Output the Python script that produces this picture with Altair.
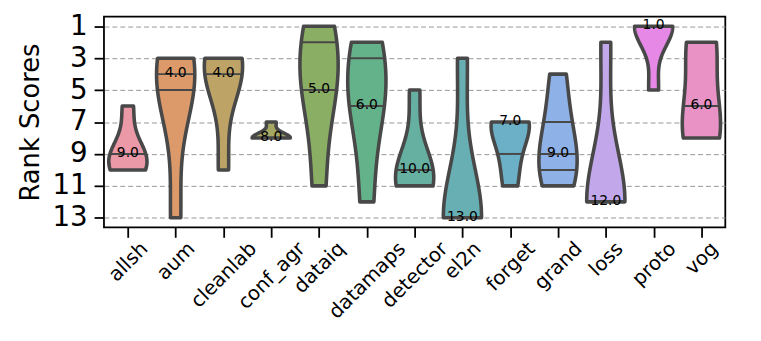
import json
import math
import colorsys
import altair as alt
import pandas as pd
import numpy as np

# ---------------- data ----------------
methods = ["allsh", "aum", "cleanlab", "conf_agr", "dataiq", "datamaps",
           "detector", "el2n", "forget", "grand", "loss", "proto", "vog"]

r_allsh = [6, 9, 9, 10, 10]
r_aum = [3, 4, 4, 5, 13]
r_cleanlab = [3, 3, 4, 4, 10]
r_conf_agr = [7, 8, 8, 8, 8]
r_dataiq = [1, 2, 5, 5, 11]
r_datamaps = [2, 3, 6, 6, 12]
r_detector = [5, 10, 10, 11, 11]
r_el2n = [3, 13, 13, 13, 13]
r_forget = [7, 7, 7, 9, 11]
r_grand = [4, 7, 9, 10, 11]
r_loss = [2, 12, 12, 12, 12]
r_proto = [1, 1, 1, 1, 5]
r_vog = [2, 2, 6, 8, 8]

rank_lists = [r_allsh, r_aum, r_cleanlab, r_conf_agr, r_dataiq, r_datamaps,
              r_detector, r_el2n, r_forget, r_grand, r_loss, r_proto, r_vog]

y_ticks = [1, 3, 5, 7, 9, 11, 13]

# ---------------- husl palette (seaborn style) ----------------
_M = [[3.2406, -1.5372, -0.4986], [-0.9689, 1.8758, 0.0415], [0.0557, -0.2040, 1.0570]]
_refU, _refV = 0.19784, 0.46834
_kappa, _eps = 903.2963, 0.0088564


def _max_chroma(L, H):
    hrad = math.radians(H)
    sinH, cosH = math.sin(hrad), math.cos(hrad)
    sub1 = (L + 16) ** 3 / 1560896.0
    sub2 = sub1 if sub1 > _eps else L / _kappa
    result = float("inf")
    for m1, m2, m3 in _M:
        top = (0.99915 * m1 + 1.05122 * m2 + 1.14460 * m3) * sub2
        rbottom = 0.86330 * m3 - 0.17266 * m2
        lbottom = 0.12949 * m3 - 0.38848 * m1
        bottom = (rbottom * sinH + lbottom * cosH) * sub2
        for t in (0.0, 1.0):
            C = L * (top - 1.05122 * t) / (bottom + 0.17266 * sinH * t)
            if 0 < C < result:
                result = C
    return result


def _f_inv(t):
    return t ** 3 if t ** 3 > _eps else (116 * t - 16) / _kappa


def _from_linear(c):
    return 12.92 * c if c <= 0.0031308 else 1.055 * c ** (1 / 2.4) - 0.055


def husl_to_rgb(H, S, L):
    C = _max_chroma(L, H) / 100.0 * S
    hrad = math.radians(H)
    U, V = C * math.cos(hrad), C * math.sin(hrad)
    varY = _f_inv((L + 16) / 116.0)
    varU = U / (13 * L) + _refU
    varV = V / (13 * L) + _refV
    Y = varY
    X = -(9 * Y * varU) / ((varU - 4) * varV - varU * varV)
    Z = (9 * Y - 15 * varV * Y - varV * X) / (3 * varV)
    rgb = [_from_linear(m[0] * X + m[1] * Y + m[2] * Z) for m in _M]
    return [min(max(c, 0.0), 1.0) for c in rgb]


def palette(n, h=0.01, s=0.9, l=0.65, sat=0.75, lighten=0.18):
    hues = (np.linspace(0, 1, n + 1)[:-1] + h) % 1 * 359
    out = []
    for hh in hues:
        r, g, b = husl_to_rgb(hh, s * 99, l * 99)
        hh2, ll, ss = colorsys.rgb_to_hls(r, g, b)
        r, g, b = colorsys.hls_to_rgb(hh2, ll, ss * sat)
        r, g, b = (c + (1 - c) * lighten for c in (r, g, b))
        out.append("#%02x%02x%02x" % tuple(int(round(c * 255)) for c in (r, g, b)))
    return out


colors = palette(len(methods))

# ---------------- table ----------------
rows = []
for i, (m, vals) in enumerate(zip(methods, rank_lists)):
    for v in vals:
        rows.append({"method": m, "idx": i, "value": v})
df = pd.DataFrame(rows)

n = len(methods)
W, H = 628, 213
FONT = "DejaVu Sans"
EDGE = "#484848"

# per-label offset so the rotated label box is centred on its tick (matplotlib style)
_cw = {"a": .613, "b": .635, "c": .550, "d": .635, "e": .615, "f": .352, "g": .635,
       "h": .634, "i": .278, "l": .278, "m": .974, "n": .634, "o": .612, "p": .635,
       "r": .411, "s": .521, "t": .392, "u": .634, "v": .592, "_": .5, "2": .636,
       "q": .635}
XFS = 20
offs = [round(0.7071 * (sum(_cw.get(c, .6) for c in m) * XFS - 1.0 * XFS) / 2, 1) for m in methods]

xscale = alt.Scale(domain=[-0.5, n - 0.5], nice=False, zero=False)
yscale = alt.Scale(domain=[0.4, 13.6], reverse=True, nice=False, zero=False)

x_axis = alt.Axis(values=list(range(n)),
                  labelExpr=f"{json.dumps(methods)}[datum.value]",
                  labelAngle=-45, labelAlign="right", labelBaseline="top",
                  labelFontSize=XFS, labelFont=FONT, labelColor="black",
                  labelOffset={"expr": f"{json.dumps(offs)}[datum.value]"},
                  labelPadding=1, tickSize=10, tickWidth=1.8, tickColor="black",
                  domain=False, grid=False, title=None, labelOverlap=False,
                  labelBound=False, labelFlush=False)

y_axis = alt.Axis(values=y_ticks, grid=True, gridDash=[5, 3], gridColor="#8a8a8a",
                  gridWidth=0.9, labelFontSize=28, labelFont=FONT, labelColor="black",
                  labelPadding=7, tickSize=10, tickWidth=1.8, tickColor="black",
                  domain=False, title="Rank Scores", titleFont=FONT, titleFontSize=26,
                  titleFontWeight="normal", titleColor="black", titlePadding=9,
                  labelOverlap=False)

layers = []
rule_layers = []
for i, (m, vals) in enumerate(zip(methods, rank_lists)):
    arr = np.array(vals, dtype=float)
    bw = float(arr.std(ddof=1) * len(arr) ** (-0.2))
    lo, hi = float(arr.min()), float(arr.max())
    steps = int(round((hi - lo) * 20))
    base = (
        alt.Chart(df)
        .transform_filter(alt.datum.method == m)
        .transform_joinaggregate(q1="q1(value)", med="median(value)", q3="q3(value)")
        .transform_density("value", groupby=["method", "idx", "q1", "med", "q3"],
                           bandwidth=bw, extent=[lo, hi], steps=steps,
                           as_=["value", "density"])
        .transform_joinaggregate(maxd="max(density)")
        .transform_calculate(x0="datum.idx - 0.4 * datum.density / datum.maxd",
                             x1="datum.idx + 0.4 * datum.density / datum.maxd")
    )
    area = base.mark_area(orient="horizontal", fill=colors[i], stroke=EDGE,
                          strokeWidth=3.6, strokeJoin="round", opacity=1).encode(
        y=alt.Y("value:Q", scale=yscale, axis=y_axis),
        x=alt.X("x0:Q", scale=xscale, axis=x_axis),
        x2="x1:Q",
    )
    rules = base.transform_filter(
        "abs(datum.value - datum.q1) < 1e-6 || abs(datum.value - datum.med) < 1e-6 || "
        "abs(datum.value - datum.q3) < 1e-6"
    ).mark_rule(color=EDGE, strokeWidth=2).encode(
        y=alt.Y("value:Q", scale=yscale, axis=y_axis),
        x=alt.X("x0:Q", scale=xscale, axis=x_axis),
        x2="x1:Q",
    )
    layers.append(area)
    rule_layers.append(rules)

labels = (
    alt.Chart(df)
    .transform_aggregate(med="median(value)", groupby=["method", "idx"])
    .mark_text(font=FONT, fontSize=14, color="black", baseline="middle",
               align="center", dy=-1)
    .encode(
        x=alt.X("idx:Q", scale=xscale, axis=x_axis),
        y=alt.Y("med:Q", scale=yscale, axis=y_axis),
        text=alt.Text("med:Q", format=".1f"),
    )
)

chart = (
    alt.layer(*layers, *rule_layers, labels)
    .properties(width=W, height=H,
                autosize=alt.AutoSizeParams(type="none"),
                padding={"left": 97, "top": 7, "right": 28, "bottom": 105},
                background="white")
    .configure_view(stroke="black", strokeWidth=1.8)
)

chart.save("out.html", embed_options={"renderer": "svg", "actions": False})
